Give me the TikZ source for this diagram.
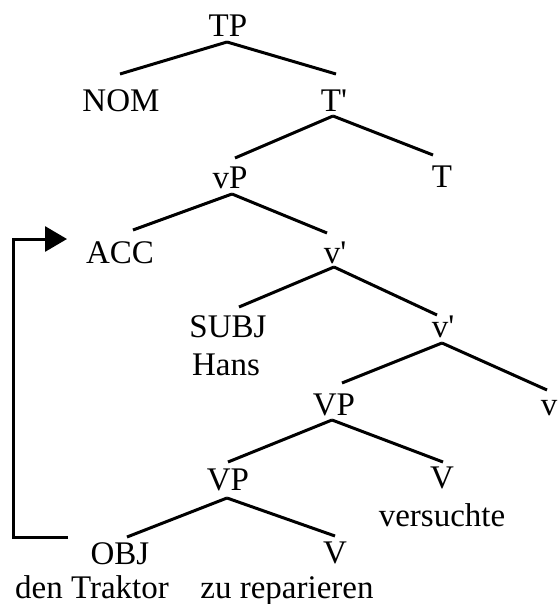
\documentclass[tikz,border=0pt]{standalone}
\usepackage{fontspec}
\setmainfont{Liberation Serif}
\usetikzlibrary{calc,arrows.meta}
\begin{document}
\begin{tikzpicture}[x=1pt,y=-1pt,
  lbl/.style={anchor=base,inner sep=0pt,font=\fontsize{33}{36}\selectfont},
  branch/.style={line width=3pt},
  move/.style={line width=3pt,-{Triangle[length=22pt,width=25pt]}}]
\useasboundingbox (0,0) rectangle (557,604);

% category labels (placed on their baselines)
\node[lbl] (TP)   at (228,37)  {TP};
\node[lbl] (NOM)  at (121,112) {NOM};
\node[lbl] (Tb)   at (334,112) {T\textquotesingle};
\node[lbl] (T)    at (442,187) {T};
\node[lbl] (vP)   at (230,188) {vP};
\node[lbl] (ACC)  at (120,263) {ACC};
\node[lbl] (vb1)  at (335,263) {v\textquotesingle};
\node[lbl] (SUBJ) at (228,337) {SUBJ};
\node[lbl] (Hans) at (226,375) {Hans};
\node[lbl] (vb2)  at (443,337) {v\textquotesingle};
\node[lbl] (VP1)  at (334,415) {VP};
\node[lbl] (v)    at (549,415) {v};
\node[lbl] (V1)   at (442,488) {V};
\node[lbl] (vers) at (442,526) {versuchte};
\node[lbl] (VP2)  at (228,490) {VP};
\node[lbl] (OBJ)  at (120,564) {OBJ};
\node[lbl] (V2)   at (335,563) {V};
\node[lbl] (trak) at (92,598)  {den Traktor};
\node[lbl] (zurep) at (287,598) {zu reparieren};

% branches
\draw[branch] ($(TP.base)+(-1,5)$) -- ($(NOM.base)+(-1,-38)$);
\draw[branch] ($(TP.base)+(-1,5)$) -- ($(Tb.base)+(2,-38)$);
\draw[branch] ($(Tb.base)+(-1,4)$) -- ($(vP.base)+(5,-30)$);
\draw[branch] ($(Tb.base)+(-1,4)$) -- ($(T.base)+(-9,-32)$);
\draw[branch] ($(vP.base)+(2,6)$) -- ($(ACC.base)+(13,-33)$);
\draw[branch] ($(vP.base)+(2,6)$) -- ($(vb1.base)+(-8,-30)$);
\draw[branch] ($(vb1.base)+(-1,4)$) -- ($(SUBJ.base)+(11,-30)$);
\draw[branch] ($(vb1.base)+(-1,4)$) -- ($(vb2.base)+(-6,-22)$);
\draw[branch] ($(vb2.base)+(-1,6)$) -- ($(VP1.base)+(8,-32)$);
\draw[branch] ($(vb2.base)+(-1,6)$) -- ($(v.base)+(-2,-25)$);
\draw[branch] ($(VP1.base)+(-2,5)$) -- ($(VP2.base)+(0,-28)$);
\draw[branch] ($(VP1.base)+(-2,5)$) -- ($(V1.base)+(1,-26)$);
\draw[branch] ($(VP2.base)+(-1,8)$) -- ($(OBJ.base)+(7,-27)$);
\draw[branch] ($(VP2.base)+(-1,8)$) -- ($(V2.base)+(0,-27)$);

% movement arrow from OBJ up to ACC
\coordinate (mvfrom) at ($(OBJ.base)+(-52,-27)$);
\coordinate (mvto)   at ($(ACC.base)+(-53,-24)$);
\draw[move] (mvfrom) -- (13,537) -- (13,239) -- (mvto);
\end{tikzpicture}
\end{document}
